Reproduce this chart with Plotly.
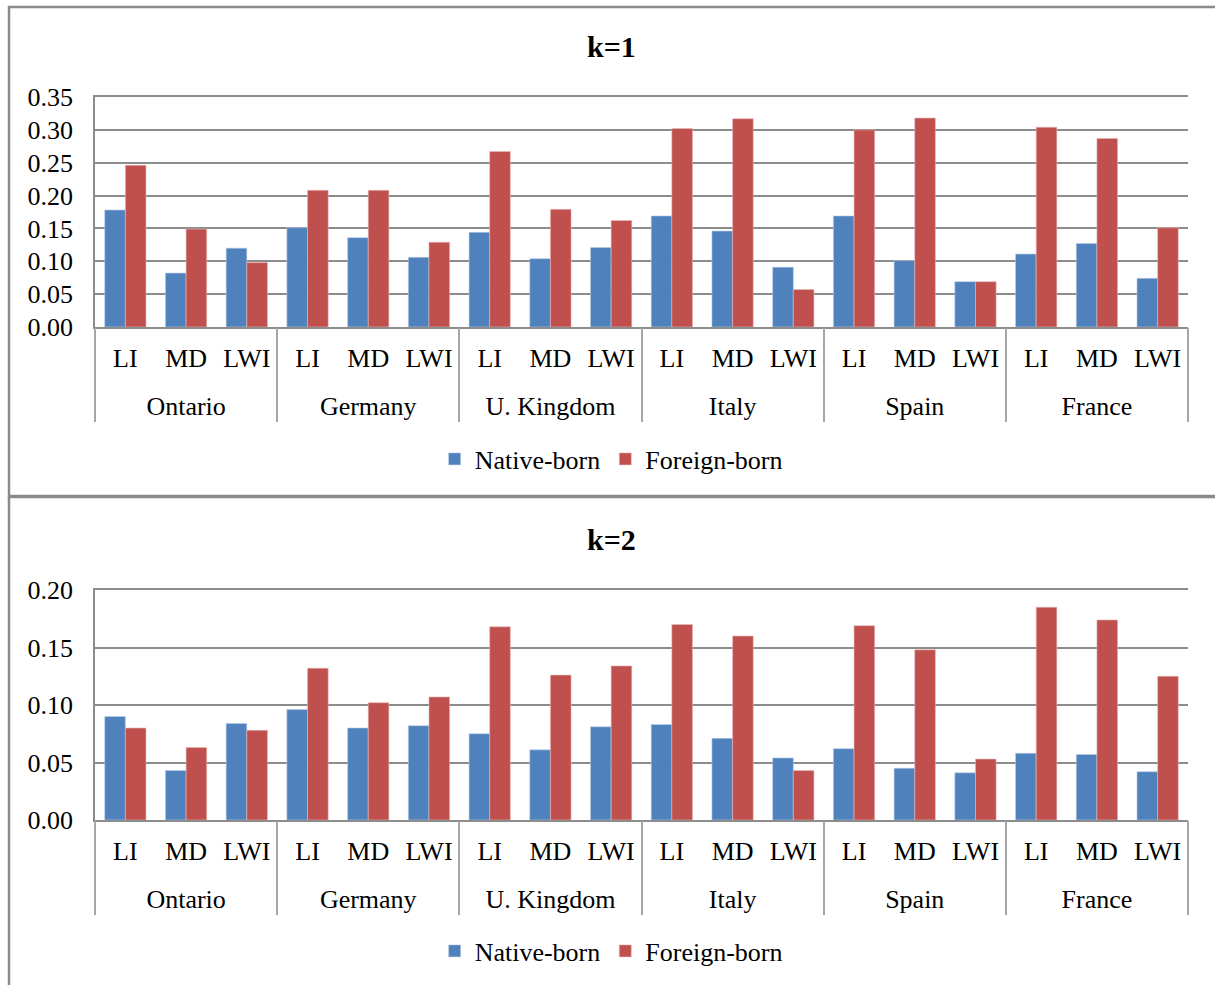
import plotly.graph_objects as go

countries = ["Ontario", "Germany", "U. Kingdom", "Italy", "Spain", "France"]
measures = ["LI", "MD", "LWI"]

k1_native = [0.178, 0.082, 0.120, 0.151, 0.136, 0.106, 0.144, 0.104, 0.121,
             0.169, 0.146, 0.091, 0.169, 0.101, 0.069, 0.111, 0.127, 0.074]
k1_foreign = [0.246, 0.149, 0.098, 0.208, 0.208, 0.129, 0.267, 0.179, 0.162,
              0.302, 0.317, 0.057, 0.300, 0.318, 0.069, 0.304, 0.287, 0.151]
k2_native = [0.090, 0.043, 0.084, 0.096, 0.080, 0.082, 0.075, 0.061, 0.081,
             0.083, 0.071, 0.054, 0.062, 0.045, 0.041, 0.058, 0.057, 0.042]
k2_foreign = [0.080, 0.063, 0.078, 0.132, 0.102, 0.107, 0.168, 0.126, 0.134,
              0.170, 0.160, 0.043, 0.169, 0.148, 0.053, 0.185, 0.174, 0.125]

series_names = ["Native-born", "Foreign-born"]
colors = ["#4F81BD", "#C0504D"]
edge_colors = ["#B9CDE5", "#E6B9B8"]

outer = [c for c in countries for _ in measures]
inner = [m for _ in countries for m in measures]
xcat = [outer, inner]
n_cat = len(inner)
n_in = len(measures)
inner_pos = list(range(n_cat))
outer_pos = [i * n_in + (n_in - 1) / 2 for i in range(len(countries))]
divider_pos = [i * n_in - 0.4999 for i in range(len(countries))] + [n_cat - 0.5001]

FONT = "Liberation Serif, Times New Roman, serif"
W, H = 1215, 985
GRID = "#8c8c8c"
DIV = "#a6a6a6"

fig = go.Figure()

for xa, ya, lg, nat, forg in [("x", "y", "legend", k1_native, k1_foreign),
                              ("x2", "y2", "legend2", k2_native, k2_foreign)]:
    for name, vals, col, ecol in zip(series_names, [nat, forg], colors, edge_colors):
        fig.add_trace(go.Bar(
            x=xcat, y=vals, name=name, xaxis=xa, yaxis=ya, legend=lg,
            marker=dict(color=col, line=dict(color=ecol, width=0.6)),
            hoverinfo="y+name",
        ))

# empty (invisible) traces so that the label / divider axes get drawn
for xa, ya, pos in [("x3", "y", inner_pos), ("x4", "y2", inner_pos),
                    ("x5", "y", outer_pos), ("x6", "y2", outer_pos),
                    ("x7", "y", divider_pos), ("x8", "y2", divider_pos)]:
    fig.add_trace(go.Scatter(x=pos, y=[0] * len(pos), xaxis=xa, yaxis=ya, mode="none",
                             showlegend=False, hoverinfo="skip"))

xd = [95 / W, 1188 / W]
tick_font = dict(family=FONT, size=26, color="black")
rng = [-0.5, n_cat - 0.5]


def base_x(anchor):
    # mirrored line provides the top border line at the highest tick (like a gridline)
    return dict(domain=xd, anchor=anchor, type="multicategory", showticklabels=False,
                showdividers=False, ticks="", showline=True, mirror=True, linecolor=GRID,
                linewidth=1.5, automargin=False, range=rng)


def overlay_x(base, anchor, vals, text, standoff, **kw):
    d = dict(visible=True, domain=xd, anchor=anchor, overlaying=base, side="bottom",
             type="linear", range=rng, tickmode="array", tickvals=vals, showgrid=False,
             zeroline=False, showline=False, tickfont=tick_font, automargin=False,
             ticklabelstandoff=standoff, fixedrange=True)
    if text is None:
        d.update(showticklabels=False)
    else:
        d.update(ticktext=text, ticks="")
    d.update(kw)
    return d


def y_ax(anchor, dom, top):
    return dict(domain=dom, anchor=anchor, range=[0, top], tick0=0, dtick=0.05,
                tickformat=".2f", showgrid=True, gridcolor=GRID, gridwidth=1.5, ticks="",
                ticklabelstandoff=15, zeroline=False, showline=True, linecolor=GRID,
                linewidth=1.5, tickfont=tick_font, automargin=False)


fig.update_layout(
    width=W, height=H,
    margin=dict(l=0, r=0, t=0, b=0, autoexpand=False),
    paper_bgcolor="white", plot_bgcolor="white",
    barmode="group", bargap=0.32, bargroupgap=0,
    font=dict(family=FONT, size=26, color="black"),
    xaxis=base_x("y"),
    xaxis2=base_x("y2"),
    xaxis3=overlay_x("x", "y", inner_pos, inner, 13),
    xaxis4=overlay_x("x2", "y2", inner_pos, inner, 13),
    xaxis5=overlay_x("x", "y", outer_pos, countries, 61),
    xaxis6=overlay_x("x2", "y2", outer_pos, countries, 61),
    xaxis7=overlay_x("x", "y", divider_pos, None, 0, ticks="outside", ticklen=94,
                     tickwidth=1.5, tickcolor=DIV),
    xaxis8=overlay_x("x2", "y2", divider_pos, None, 0, ticks="outside", ticklen=94,
                     tickwidth=1.5, tickcolor=DIV),
    yaxis=y_ax("x", [1 - 327 / H, 1 - 97 / H], 0.35),
    yaxis2=y_ax("x2", [1 - 820 / H, 1 - 590 / H], 0.20),
    legend=dict(orientation="h", xref="container", yref="container",
                x=0.503, xanchor="center", y=1 - 459 / H, yanchor="middle",
                font=dict(family=FONT, size=26), itemwidth=30, bgcolor="rgba(0,0,0,0)"),
    legend2=dict(orientation="h", xref="container", yref="container",
                 x=0.503, xanchor="center", y=1 - 951 / H, yanchor="middle",
                 font=dict(family=FONT, size=26), itemwidth=30, bgcolor="rgba(0,0,0,0)"),
    annotations=[
        dict(text="<b>k=1</b>", x=612 / W, y=1 - 47 / H, xref="paper", yref="paper",
             showarrow=False, font=dict(family=FONT, size=30, color="black"),
             xanchor="center", yanchor="middle"),
        dict(text="<b>k=2</b>", x=612 / W, y=1 - 539 / H, xref="paper", yref="paper",
             showarrow=False, font=dict(family=FONT, size=30, color="black"),
             xanchor="center", yanchor="middle"),
    ],
    shapes=[
        dict(type="rect", xref="paper", yref="paper", x0=9 / W, x1=1.01,
             y0=1 - 496 / H, y1=1 - 7 / H, line=dict(color="#8a8a8a", width=2.5), layer="below"),
        dict(type="rect", xref="paper", yref="paper", x0=9 / W, x1=1.01,
             y0=-0.01, y1=1 - 497 / H, line=dict(color="#8a8a8a", width=2.5), layer="below"),
    ],
)

fig.write_html("out.html", config={"displayModeBar": False},
               post_script="document.body.style.margin='0';")
